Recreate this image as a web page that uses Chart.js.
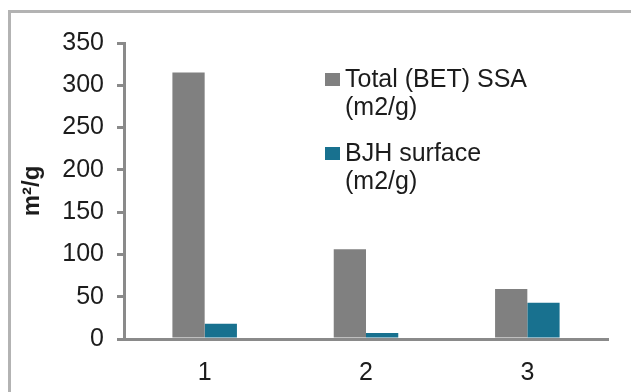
<!DOCTYPE html>
<html>
<head>
<meta charset="utf-8">
<script src="https://cdn.jsdelivr.net/npm/chart.js@4.4.1/dist/chart.umd.min.js"></script>
<style>
  html, body { margin: 0; padding: 0; background: #fff; overflow: hidden; }
  #wrap { position: relative; width: 631px; height: 392px; }
  #frame {
    position: absolute; left: 8px; top: 10px; width: 640px; height: 400px;
    border-left: 3px solid #b3b3b3; border-top: 3px solid #b3b3b3;
  }
  canvas { position: absolute; left: 0; top: 0; }
</style>
</head>
<body>
<div id="wrap">
  <div id="frame"></div>
  <canvas id="ssaChart" width="631" height="392"></canvas>
</div>
<script>
// data
const samples = ['1', '2', '3'];
const betValues = [315, 106, 59];
const bjhValues = [18, 7, 43];
const seriesLabels = [['Total (BET) SSA', '(m2/g)'], ['BJH surface', '(m2/g)']];
const yTicks = [0, 50, 100, 150, 200, 250, 300, 350];

const FONT = "'Liberation Sans', Arial, sans-serif";
const TEXT = '#1c1c1c';

// legend drawn by hand, the labels wrap onto two lines
const sideLegend = {
  id: 'sideLegend',
  afterDraw(chart) {
    const ctx = chart.ctx;
    const x = chart.chartArea.left + 201;
    const tops = [73, 147];
    ctx.save();
    ctx.font = '25px ' + FONT;
    ctx.textBaseline = 'alphabetic';
    chart.data.datasets.forEach((ds, i) => {
      ctx.fillStyle = ds.backgroundColor;
      ctx.fillRect(x, tops[i], 15, 13);
      ctx.fillStyle = TEXT;
      seriesLabels[i].forEach((line, j) => {
        ctx.fillText(line, x + 20, tops[i] + 14 + j * 28);
      });
    });
    ctx.restore();
  }
};

const ctx = document.getElementById('ssaChart').getContext('2d');
const ssaChart = new Chart(ctx, {
  type: 'bar',
  data: {
    labels: samples,
    datasets: [
      {
        label: seriesLabels[0].join(' '),
        data: betValues,
        backgroundColor: '#808080'
      },
      {
        label: seriesLabels[1].join(' '),
        data: bjhValues,
        backgroundColor: '#18718f'
      }
    ]
  },
  options: {
    responsive: false,
    animation: false,
    events: [],
    layout: { padding: { left: 0, top: 43, right: 23, bottom: 0 } },
    categoryPercentage: 0.4,
    barPercentage: 1.0,
    scales: {
      x: {
        grid: { display: false },
        border: { color: '#8a8a8a', width: 3 },
        ticks: { color: TEXT, font: { family: FONT, size: 25 }, padding: 11 },
        afterFit: (scale) => { scale.height = 53; }
      },
      y: {
        min: 0,
        max: 350,
        afterBuildTicks: (scale) => { scale.ticks = yTicks.map(v => ({ value: v })); },
        grid: { drawOnChartArea: false, color: '#8a8a8a', lineWidth: 3, tickLength: 7 },
        border: { color: '#8a8a8a', width: 3 },
        ticks: { color: TEXT, font: { family: FONT, size: 25 }, padding: 13 },
        title: {
          display: true,
          text: 'm²/g',
          color: TEXT,
          font: { family: FONT, size: 24, weight: 'bold' },
          padding: { top: 18, bottom: 0 }
        },
        afterFit: (scale) => { scale.width = 124; }
      }
    },
    plugins: {
      legend: { display: false },
      tooltip: { enabled: false }
    }
  },
  plugins: [sideLegend]
});
</script>
</body>
</html>
